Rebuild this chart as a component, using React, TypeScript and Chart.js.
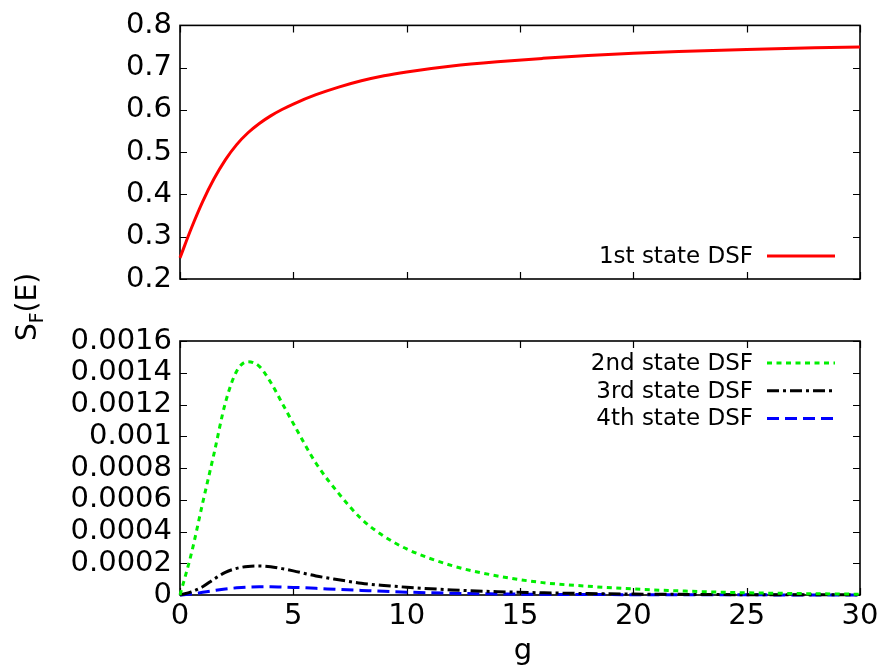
import React, { useEffect, useRef } from 'react';
import { Chart, registerables } from 'chart.js';

Chart.register(...registerables);

// ---- data ----
const G = [0, 0.5, 1, 1.5, 2, 2.5, 3, 3.5, 4, 4.5, 5, 6, 7, 8, 9, 10, 12, 14, 16, 18, 20, 22, 25, 28, 30];
const S1 = [0.25, 0.32, 0.383, 0.437, 0.482, 0.518, 0.546, 0.568, 0.586, 0.601, 0.614, 0.636, 0.654, 0.669, 0.681, 0.69, 0.704, 0.714, 0.722, 0.729, 0.734, 0.738, 0.743, 0.747, 0.749];
const S2 = [0, 0.00026, 0.00058, 0.00089, 0.00121, 0.00141, 0.00147, 0.00144, 0.00134, 0.00121, 0.00108, 0.00083, 0.00064, 0.00048, 0.00037, 0.00029, 0.000185, 0.00012, 0.000078, 0.000055, 0.000038, 0.000026, 0.000014, 0.000008, 0.000005];
const S3 = [0, 0.00002, 0.000052, 0.0001, 0.000143, 0.000168, 0.00018, 0.000183, 0.000178, 0.000166, 0.000152, 0.00012, 0.000096, 0.000074, 0.00006, 0.000049, 0.000032, 0.000021, 0.000014, 0.000009, 0.000006, 0.000004, 0.000002, 0.000001, 0.000001];
const S4 = [0, 0.000006, 0.000017, 0.000028, 0.000038, 0.000045, 0.00005, 0.000052, 0.000052, 0.00005, 0.000048, 0.000042, 0.000035, 0.000029, 0.000023, 0.000018, 0.000011, 0.000007, 0.000004, 0.000003, 0.000002, 0.000001, 0.000001, 0, 0];

const LABELS = ['1st state DSF', '2nd state DSF', '3rd state DSF', '4th state DSF'];
const X_TICKS = [0, 5, 10, 15, 20, 25, 30];
const TOP_Y_TICKS = [0.2, 0.3, 0.4, 0.5, 0.6, 0.7, 0.8];
const BOT_Y_TICKS = [0, 0.0002, 0.0004, 0.0006, 0.0008, 0.001, 0.0012, 0.0014, 0.0016];
const Y_TITLE_MAIN = 'S';
const Y_TITLE_SUB = 'F';
const Y_TITLE_REST = '(E)';
const X_TITLE = 'g';

const W = 885;
const H = 668;
const FONT = '"DejaVu Sans", sans-serif';
const TICK_SIZE = 29;

const pts = (ys: number[]) => G.map((g, i) => ({ x: g, y: ys[i] }));

const framePlugin = {
  id: 'frame',
  beforeDatasetsDraw(chart: any) {
    const { ctx, chartArea: a, scales } = chart;
    ctx.save();
    ctx.strokeStyle = '#000';
    ctx.lineWidth = 1.6;
    ctx.strokeRect(a.left, a.top, a.right - a.left, a.bottom - a.top);
    const T = 7;
    ctx.beginPath();
    for (const t of scales.x.ticks) {
      const px = Math.round(scales.x.getPixelForValue(t.value)) + 0.5;
      ctx.moveTo(px, a.bottom);
      ctx.lineTo(px, a.bottom - T);
      ctx.moveTo(px, a.top);
      ctx.lineTo(px, a.top + T);
    }
    for (const t of scales.y.ticks) {
      const py = Math.round(scales.y.getPixelForValue(t.value)) + 0.5;
      ctx.moveTo(a.left, py);
      ctx.lineTo(a.left + T, py);
      ctx.moveTo(a.right, py);
      ctx.lineTo(a.right - T, py);
    }
    ctx.lineWidth = 1.2;
    ctx.stroke();
    ctx.restore();
  },
};

const legendPlugin = {
  id: 'dsfLegend',
  afterDatasetsDraw(chart: any, _args: any, opts: any) {
    const { ctx } = chart;
    ctx.save();
    ctx.font = `23px ${FONT}`;
    ctx.fillStyle = '#000';
    ctx.textAlign = 'right';
    ctx.textBaseline = 'middle';
    chart.data.datasets.forEach((ds: any, i: number) => {
      const y = opts.y + i * opts.dy;
      ctx.fillText(ds.label, opts.textRight, y + 1);
      ctx.beginPath();
      ctx.setLineDash(ds.borderDash || []);
      ctx.strokeStyle = ds.borderColor;
      ctx.lineWidth = ds.borderWidth;
      ctx.moveTo(opts.x1, y);
      ctx.lineTo(opts.x2, y);
      ctx.stroke();
      ctx.setLineDash([]);
    });
    ctx.restore();
  },
};

const titlesPlugin = {
  id: 'titles',
  afterDraw(chart: any, _args: any, opts: any) {
    if (!opts.show) return;
    const { ctx } = chart;
    ctx.save();
    ctx.fillStyle = '#000';
    ctx.textBaseline = 'alphabetic';
    ctx.translate(36, 307);
    ctx.rotate(-Math.PI / 2);
    const mainFont = `28px ${FONT}`;
    const subFont = `19px ${FONT}`;
    ctx.font = mainFont;
    const wS = ctx.measureText(Y_TITLE_MAIN).width;
    const wR = ctx.measureText(Y_TITLE_REST).width;
    ctx.font = subFont;
    const wF = ctx.measureText(Y_TITLE_SUB).width;
    const total = wS + wF + wR;
    let x = -total / 2;
    ctx.textAlign = 'left';
    ctx.font = mainFont;
    ctx.fillText(Y_TITLE_MAIN, x, 0);
    x += wS;
    ctx.font = subFont;
    ctx.fillText(Y_TITLE_SUB, x, 7);
    x += wF;
    ctx.font = mainFont;
    ctx.fillText(Y_TITLE_REST, x, 0);
    ctx.restore();
    ctx.save();
    ctx.fillStyle = '#000';
    ctx.font = `29px ${FONT}`;
    ctx.textAlign = 'center';
    ctx.textBaseline = 'alphabetic';
    const a = chart.chartArea;
    ctx.fillText(X_TITLE, (a.left + a.right) / 2 + 3, 659);
    ctx.restore();
  },
};

function makeOptions(cfg: {
  padTop: number; padBottom: number; xHeight: number; yMin: number; yMax: number;
  yTicks: number[]; yFmt: (v: number) => string; showX: boolean; legend: any; titles: boolean;
}): any {
  return {
    responsive: false,
    animation: false,
    events: [],
    layout: { padding: { top: cfg.padTop, bottom: cfg.padBottom, left: 0, right: 25 } },
    plugins: {
      legend: { display: false },
      tooltip: { enabled: false },
      dsfLegend: cfg.legend,
      titles: { show: cfg.titles },
    },
    scales: {
      x: {
        type: 'linear',
        min: 0,
        max: 30,
        afterBuildTicks: (s: any) => { s.ticks = X_TICKS.map((v) => ({ value: v })); },
        afterFit: (s: any) => { s.height = cfg.xHeight; },
        grid: { display: false, drawTicks: false },
        border: { display: false },
        ticks: {
          display: cfg.showX,
          padding: 4,
          color: '#000',
          font: { family: FONT, size: TICK_SIZE },
          maxRotation: 0,
          autoSkip: false,
          callback: (v: number) => String(v),
        },
      },
      y: {
        type: 'linear',
        min: cfg.yMin,
        max: cfg.yMax,
        afterBuildTicks: (s: any) => { s.ticks = cfg.yTicks.map((v) => ({ value: v })); },
        afterFit: (s: any) => { s.width = 180; },
        grid: { display: false, drawTicks: false },
        border: { display: false },
        ticks: {
          padding: 8,
          color: '#000',
          font: { family: FONT, size: TICK_SIZE },
          autoSkip: false,
          callback: (v: number) => cfg.yFmt(v),
        },
      },
    },
  };
}

const lineDs = (label: string, data: number[], color: string, dash: number[]) => ({
  label,
  data: pts(data),
  borderColor: color,
  backgroundColor: color,
  borderWidth: 3,
  borderDash: dash,
  borderCapStyle: 'butt',
  pointRadius: 0,
  fill: false,
  cubicInterpolationMode: 'monotone',
  clip: 6,
});

export default function App() {
  const topRef = useRef<HTMLCanvasElement | null>(null);
  const botRef = useRef<HTMLCanvasElement | null>(null);

  useEffect(() => {
    document.body.style.margin = '0';
    const top = new Chart(topRef.current as HTMLCanvasElement, {
      type: 'line',
      data: { datasets: [lineDs(LABELS[0], S1, '#ff0000', [])] as any },
      options: makeOptions({
        padTop: 24,
        padBottom: H - 279 - 10,
        xHeight: 10,
        yMin: 0.2,
        yMax: 0.8,
        yTicks: TOP_Y_TICKS,
        yFmt: (v) => v.toFixed(1),
        showX: false,
        legend: { textRight: 753, x1: 767, x2: 835, y: 256, dy: 28 },
        titles: false,
      }),
      plugins: [framePlugin, legendPlugin, titlesPlugin],
    });
    const bot = new Chart(botRef.current as HTMLCanvasElement, {
      type: 'line',
      data: {
        datasets: [
          lineDs(LABELS[1], S2, '#00ee00', [5, 4.5]),
          lineDs(LABELS[2], S3, '#000000', [12, 4, 3, 4]),
          lineDs(LABELS[3], S4, '#0000ff', [12, 6]),
        ] as any,
      },
      options: makeOptions({
        padTop: 341,
        padBottom: 0,
        xHeight: H - 595,
        yMin: 0,
        yMax: 0.0016,
        yTicks: BOT_Y_TICKS,
        yFmt: (v) => (v === 0 ? '0' : String(parseFloat(v.toFixed(4)))),
        showX: true,
        legend: { textRight: 753, x1: 767, x2: 835, y: 363, dy: 27.7 },
        titles: true,
      }),
      plugins: [framePlugin, legendPlugin, titlesPlugin],
    });
    return () => {
      top.destroy();
      bot.destroy();
    };
  }, []);

  const cstyle: React.CSSProperties = { position: 'absolute', left: 0, top: 0, width: W, height: H };
  return (
    <div style={{ position: 'fixed', left: 0, top: 0, width: W, height: H, background: '#fff' }}>
      <canvas ref={topRef} width={W} height={H} style={cstyle} />
      <canvas ref={botRef} width={W} height={H} style={cstyle} />
    </div>
  );
}
